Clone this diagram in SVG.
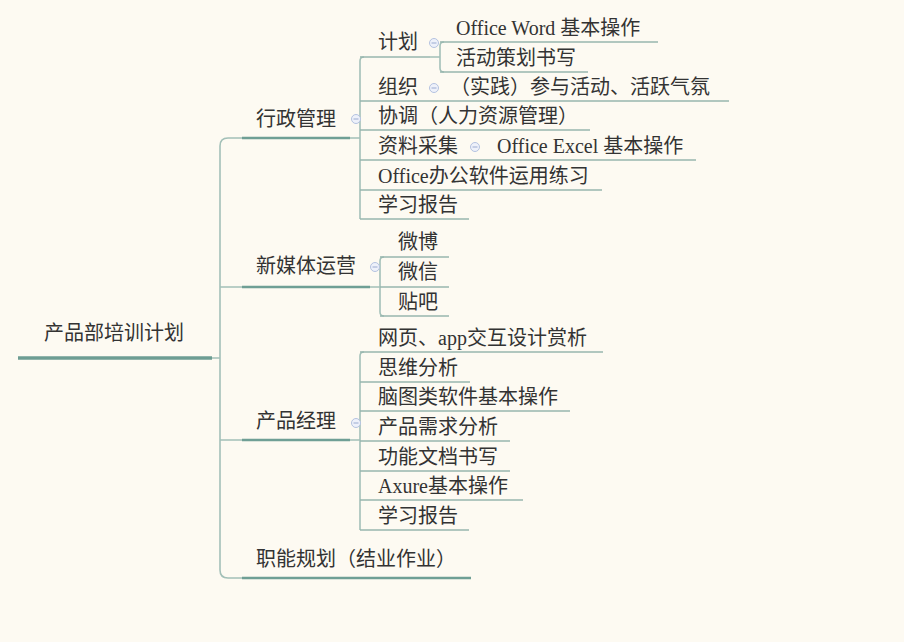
<svg xmlns="http://www.w3.org/2000/svg" xmlns:xlink="http://www.w3.org/1999/xlink" width="904" height="642" viewBox="0 0 904 642">
<style>
text{font-family:"Liberation Serif","Noto Sans CJK SC",serif;font-size:20px;fill:#333}
.conn{fill:none;stroke:#a3c0b8;stroke-width:1.6}
.u0{stroke:#6d9d93;stroke-width:3.5}
.u1{stroke:#6f9f95;stroke-width:2.5}
.u2{stroke:#97b6ae;stroke-width:1.6}
</style>
<defs>
<g id="col"><circle r="4.5" fill="#eef1fa" stroke="#b4c2e0" stroke-width="1"/><line x1="-2.5" y1="0" x2="2.5" y2="0" stroke="#9aaad0" stroke-width="1"/></g>
</defs>
<rect width="904" height="642" fill="#fdfaf2"/>
<g id="connectors">
<path class="conn" d="M212 358H220M242 138H228Q220 138 220 146V570Q220 578 228 578H242M220 287H242M220 440H242"/>
<path class="conn" d="M350 138H360M360 219V61Q360 57 364 57"/>
<path class="conn" d="M430 57H440M440 46Q440 42 444 42M440 46V68Q440 72 444 72"/>
<path class="conn" d="M370 287H380M380 261Q380 257 384 257M380 261V312Q380 316 384 316"/>
<path class="conn" d="M350 440H360M360 356Q360 352 364 352M360 356V530"/>
</g>
<g id="root"><line class="u0" x1="18" y1="358" x2="212" y2="358"/><text x="44" y="340">产品部培训计划</text></g>
<g id="n1"><line class="u1" x1="242" y1="138" x2="350" y2="138"/><text x="256" y="126">行政管理</text><use xlink:href="#col" x="356" y="119"/></g>
<g id="n1a"><line class="u2" x1="360" y1="57" x2="430" y2="57"/><text x="378" y="49">计划</text><use xlink:href="#col" x="434" y="43"/></g>
<g id="n1a1"><line class="u2" x1="440" y1="42" x2="658" y2="42"/><text x="456" y="35">Office Word 基本操作</text></g>
<g id="n1a2"><line class="u2" x1="440" y1="72" x2="588" y2="72"/><text x="456" y="65">活动策划书写</text></g>
<g id="n1b"><line class="u2" x1="360" y1="101" x2="440" y2="101"/><text x="378" y="94">组织</text><use xlink:href="#col" x="434" y="88"/></g>
<g id="n1b1"><line class="u2" x1="440" y1="101" x2="729" y2="101"/><text x="450" y="94">（实践）参与活动、活跃气氛</text></g>
<g id="n1c"><line class="u2" x1="360" y1="130" x2="590" y2="130"/><text x="378" y="123">协调（人力资源管理）</text></g>
<g id="n1d"><line class="u2" x1="360" y1="160" x2="486" y2="160"/><text x="378" y="153">资料采集</text><use xlink:href="#col" x="475" y="147"/></g>
<g id="n1d1"><line class="u2" x1="486" y1="160" x2="696" y2="160"/><text x="497" y="153">Office Excel 基本操作</text></g>
<g id="n1e"><line class="u2" x1="360" y1="190" x2="602" y2="190"/><text x="378" y="183">Office办公软件运用练习</text></g>
<g id="n1f"><line class="u2" x1="360" y1="219" x2="469" y2="219"/><text x="378" y="212">学习报告</text></g>
<g id="n2"><line class="u1" x1="242" y1="287" x2="370" y2="287"/><text x="256" y="273">新媒体运营</text><use xlink:href="#col" x="375" y="267"/></g>
<g id="n2a"><line class="u2" x1="380" y1="257" x2="449" y2="257"/><text x="398" y="249">微博</text></g>
<g id="n2b"><line class="u2" x1="380" y1="287" x2="449" y2="287"/><text x="398" y="279">微信</text></g>
<g id="n2c"><line class="u2" x1="380" y1="316" x2="449" y2="316"/><text x="398" y="309">贴吧</text></g>
<g id="n3"><line class="u1" x1="242" y1="440" x2="350" y2="440"/><text x="256" y="428">产品经理</text><use xlink:href="#col" x="356" y="423"/></g>
<g id="n3a"><line class="u2" x1="360" y1="352" x2="603" y2="352"/><text x="378" y="345">网页、app交互设计赏析</text></g>
<g id="n3b"><line class="u2" x1="360" y1="382" x2="470" y2="382"/><text x="378" y="375">思维分析</text></g>
<g id="n3c"><line class="u2" x1="360" y1="411" x2="570" y2="411"/><text x="378" y="404">脑图类软件基本操作</text></g>
<g id="n3d"><line class="u2" x1="360" y1="441" x2="510" y2="441"/><text x="378" y="434">产品需求分析</text></g>
<g id="n3e"><line class="u2" x1="360" y1="471" x2="510" y2="471"/><text x="378" y="464">功能文档书写</text></g>
<g id="n3f"><line class="u2" x1="360" y1="500" x2="523" y2="500"/><text x="378" y="493">Axure基本操作</text></g>
<g id="n3g"><line class="u2" x1="360" y1="530" x2="469" y2="530"/><text x="378" y="523">学习报告</text></g>
<g id="n4"><line class="u1" x1="242" y1="578" x2="471" y2="578"/><text x="256" y="566">职能规划（结业作业）</text></g>
</svg>
